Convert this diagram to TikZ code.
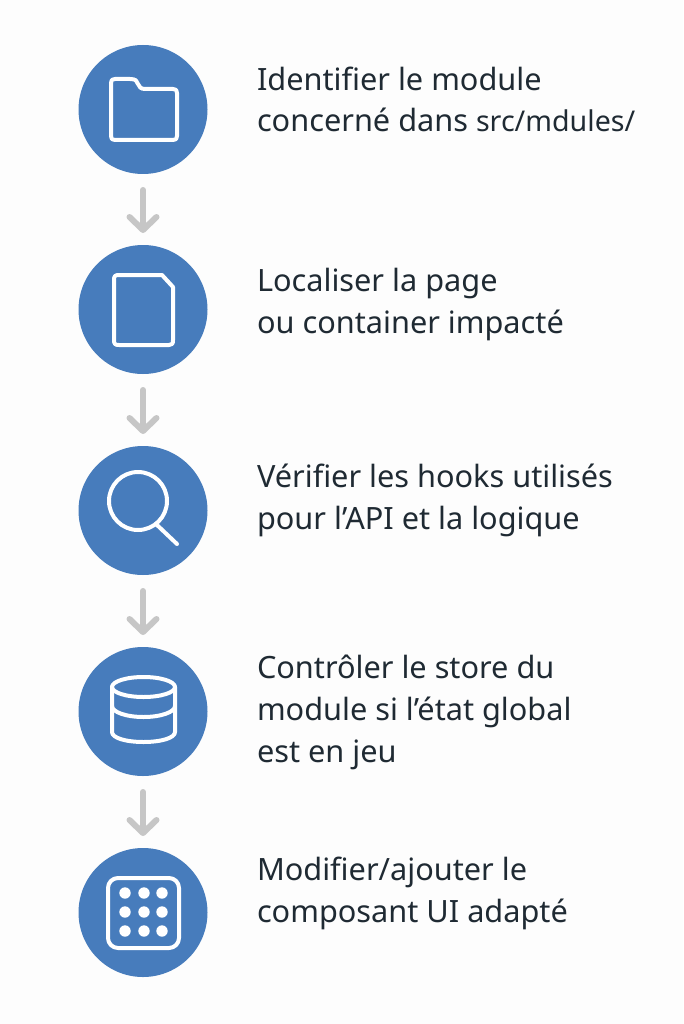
\documentclass[tikz,border=0pt]{standalone}
\usepackage{fontspec}
\setmainfont{Noto Sans}
\usetikzlibrary{arrows.meta}
\definecolor{stepblue}{HTML}{477CBC}
\definecolor{arrowgrey}{HTML}{C6C6C6}
\definecolor{inkdark}{HTML}{1F2A33}
\definecolor{paper}{HTML}{FDFDFD}
\tikzset{
  x=1pt,y=-1pt,
  stepcircle/.style={circle,fill=stepblue,minimum size=129pt,inner sep=0pt,outer sep=0pt},
  flowarrow/.style={draw=arrowgrey,line width=6pt,line cap=round,
    -{Straight Barb[length=13pt,width=27pt,round,line width=6pt]},shorten <=16pt,shorten >=12pt},
  icon/.style={draw=white,line width=4pt,line join=round,line cap=round},
  steptext/.style={anchor=base west,inner sep=0pt,outer sep=0pt,text=inkdark,align=left,
    font=\fontsize{30.7pt}{41.7pt}\selectfont},
}
\begin{document}
\begin{tikzpicture}
\useasboundingbox[fill=paper] (0,0) rectangle (683,1024);
\node[stepcircle] (c1) at (143,109.5) {};
\node[stepcircle] (c2) at (143,309.5) {};
\node[stepcircle] (c3) at (143,510.5) {};
\node[stepcircle] (c4) at (143,711.5) {};
\node[stepcircle] (c5) at (143,912.5) {};
\draw[flowarrow] (c1) -- (c2);
\draw[flowarrow] (c2) -- (c3);
\draw[flowarrow] (c3) -- (c4);
\draw[flowarrow] (c4) -- (c5);
% folder
\draw[icon] (115,79) -- (130,79) .. controls (136,79) and (137,81) .. (138,84)
  .. controls (139,87) and (141,89) .. (145,89) -- (173,89)
  .. controls (176,89) and (177,90) .. (177,93) -- (177,136)
  .. controls (177,139) and (176,140) .. (173,140) -- (115,140)
  .. controls (112,140) and (111,139) .. (111,136) -- (111,83)
  .. controls (111,80) and (112,79) .. (115,79) -- cycle;
% document
\draw[icon] (119,275) -- (162,275) -- (173,287) -- (173,340)
  .. controls (173,344) and (172,345) .. (169,345) -- (119,345)
  .. controls (115,345) and (114,344) .. (114,340) -- (114,280)
  .. controls (114,276) and (115,275) .. (119,275) -- cycle;
% magnifier
\draw[icon] (138,501) circle[radius=29];
\draw[icon] (157,525) -- (177,544);
% database
\draw[icon] (143.5,687) ellipse[x radius=31.5,y radius=10];
\draw[icon] (112,687) -- (112,732) .. controls (112,738) and (126,742) .. (143.5,742)
  .. controls (161,742) and (175,738) .. (175,732) -- (175,687);
\draw[icon] (112,706) .. controls (112,712) and (126,717) .. (143.5,717)
  .. controls (161,717) and (175,712) .. (175,706);
% grid
\draw[icon,rounded corners=10pt] (108,878) rectangle (179,948);
\foreach \px in {125,144,162}
  \foreach \py in {893,912,931}
    \fill[white] (\px,\py) circle[radius=5.7];
% texts (base anchor = last line)
\node[steptext] (t1) at (257,132) {Identifier le module\\concerné dans {\fontsize{28.6pt}{41.7pt}\selectfont src/mdules/}};
\node[steptext] (t2) at (257,333) {Localiser la page\\ou container impacté};
\node[steptext] (t3) at (257,529) {Vérifier les hooks utilisés\\pour l’API et la logique};
\node[steptext] (t4) at (257,762) {Contrôler le store du\\module si l’état global\\est en jeu};
\node[steptext] (t5) at (257,922) {Modifier/ajouter le\\composant UI adapté};
\end{tikzpicture}
\end{document}
